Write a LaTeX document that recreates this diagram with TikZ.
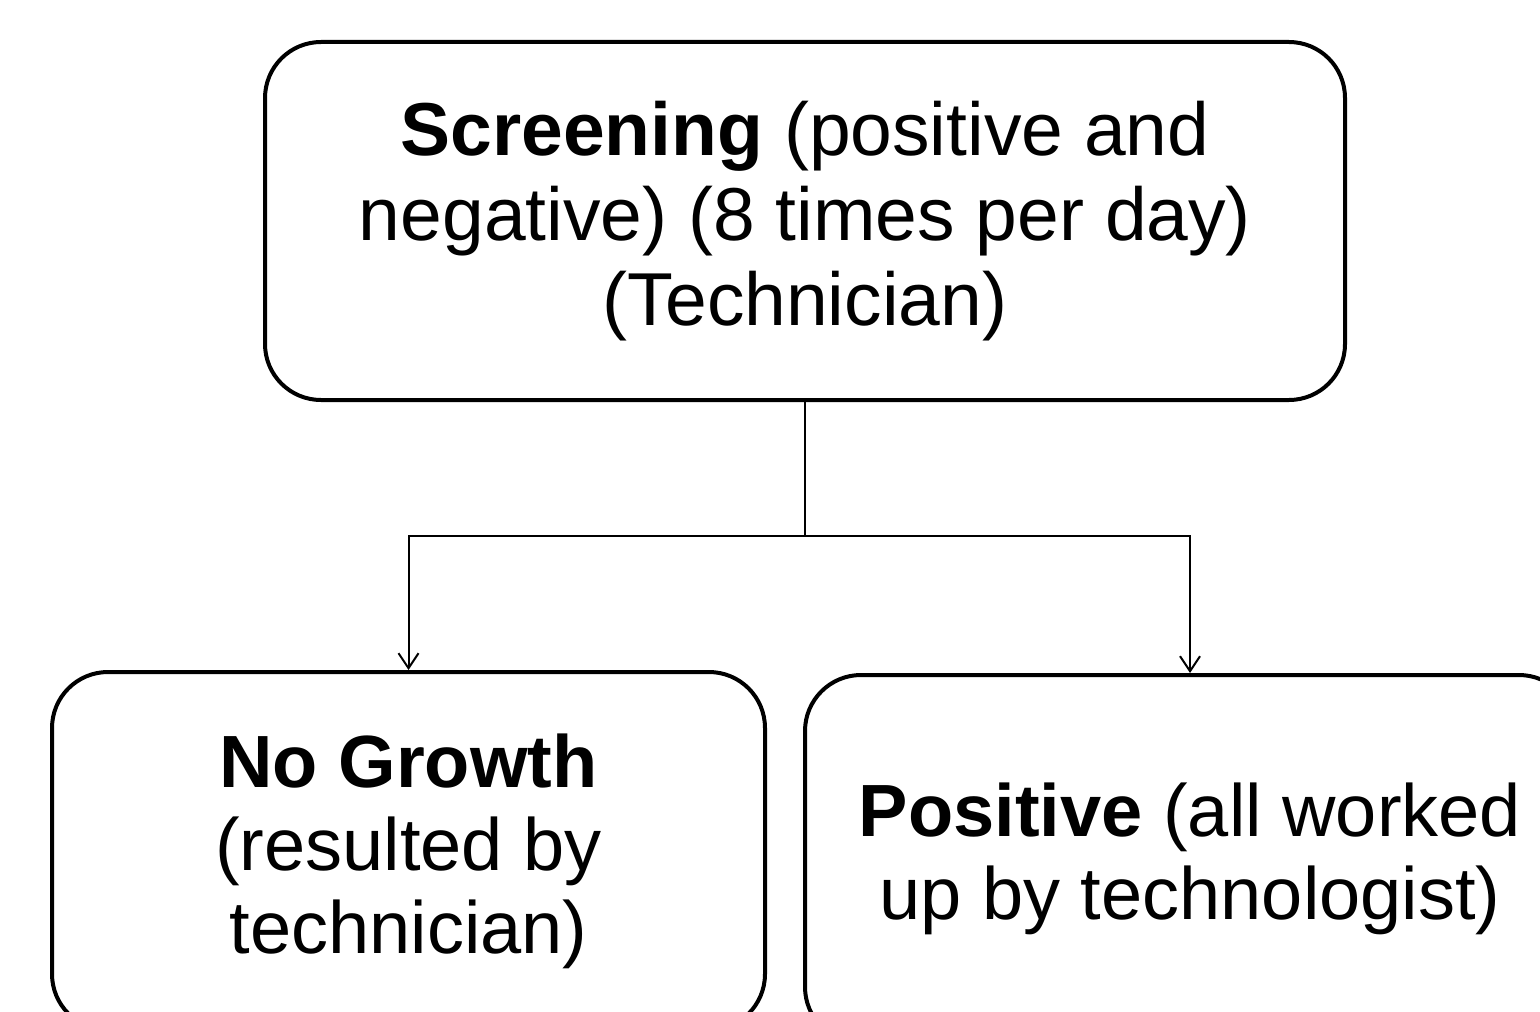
\documentclass[tikz,border=0pt]{standalone}
\usepackage{fontspec}
\setmainfont{Liberation Sans}
\usetikzlibrary{arrows.meta,positioning}

\begin{document}
\begin{tikzpicture}[
    x=0.5pt, y=-0.5pt,
    box/.style={
        draw, line width=2pt,
        rounded corners=28pt,
        align=center,
        inner sep=0pt
    },
    toptext/.style={font=\fontsize{37.5}{42.5}\selectfont},
    lowtext/.style={font=\fontsize{37}{41.5}\selectfont},
    link/.style={draw, line width=1pt},
    tip/.style={-{Straight Barb[length=7.5pt,width=10pt,line width=1pt]}}
]
\useasboundingbox (0,0) rectangle (1540,1011);
\clip (0,0) rectangle (1540,1011);

\node[box, toptext, minimum width=540pt, minimum height=179pt] (screening) at (805,221)
    {\textbf{Screening} (positive and\\ negative) (8 times per day)\\ (Technician)};
\node[box, lowtext, minimum width=356.5pt, minimum height=179pt] (nogrowth) at (408.5,851)
    {\textbf{No Growth}\\ (resulted by\\ technician)};
\node[box, lowtext, minimum width=385pt, minimum height=184pt] (positive) at (1190,859)
    {\textbf{Positive} (all worked\\ up by technologist)};

\coordinate (split) at (805,536);
\draw[link] (screening.south) -- (split);
\draw[link, tip] (split) -| (nogrowth.north);
\draw[link, tip] (split) -| (positive.north);
\end{tikzpicture}
\end{document}
